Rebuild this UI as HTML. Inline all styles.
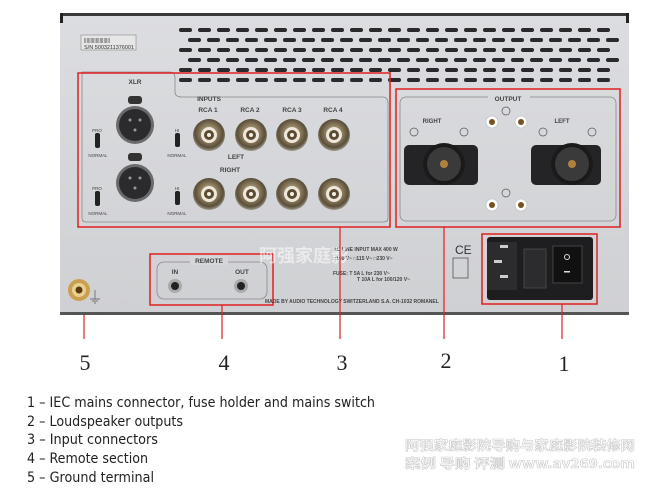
<!DOCTYPE html>
<html><head><meta charset="utf-8"><style>html,body{margin:0;padding:0;background:#fff}svg{display:block}</style></head>
<body>
<svg width="650" height="492" viewBox="0 0 650 492" xmlns="http://www.w3.org/2000/svg" font-family="Liberation Sans, sans-serif">
<defs>
<radialGradient id="rca" cx="50%" cy="45%" r="55%"><stop offset="0" stop-color="#d8c9a8"/><stop offset="0.5" stop-color="#8a7a5c"/><stop offset="0.8" stop-color="#5a4e3a"/><stop offset="1" stop-color="#a0998a"/></radialGradient>
<linearGradient id="panel" x1="0" y1="0" x2="0" y2="1"><stop offset="0" stop-color="#dcdde0"/><stop offset="1" stop-color="#cfd0d3"/></linearGradient>
</defs>
<rect x="60" y="13" width="569" height="302" fill="url(#panel)"/>
<rect x="60" y="13" width="569" height="3" fill="#3a3a3c"/>
<rect x="60" y="312" width="569" height="3" fill="#555"/>
<rect x="60" y="13" width="3" height="10" fill="#222"/><rect x="626" y="13" width="3" height="10" fill="#222"/>
<g fill="#2a2a2c">
<g id="r1">
<rect x="179" y="28" width="13" height="4" rx="2"/><rect x="198" y="28" width="13" height="4" rx="2"/><rect x="217" y="28" width="13" height="4" rx="2"/><rect x="236" y="28" width="13" height="4" rx="2"/><rect x="255" y="28" width="13" height="4" rx="2"/><rect x="274" y="28" width="13" height="4" rx="2"/><rect x="293" y="28" width="13" height="4" rx="2"/><rect x="312" y="28" width="13" height="4" rx="2"/><rect x="331" y="28" width="13" height="4" rx="2"/><rect x="350" y="28" width="13" height="4" rx="2"/><rect x="369" y="28" width="13" height="4" rx="2"/><rect x="388" y="28" width="13" height="4" rx="2"/><rect x="407" y="28" width="13" height="4" rx="2"/><rect x="426" y="28" width="13" height="4" rx="2"/><rect x="445" y="28" width="13" height="4" rx="2"/><rect x="464" y="28" width="13" height="4" rx="2"/><rect x="483" y="28" width="13" height="4" rx="2"/><rect x="502" y="28" width="13" height="4" rx="2"/><rect x="521" y="28" width="13" height="4" rx="2"/><rect x="540" y="28" width="13" height="4" rx="2"/><rect x="559" y="28" width="13" height="4" rx="2"/><rect x="578" y="28" width="13" height="4" rx="2"/><rect x="597" y="28" width="13" height="4" rx="2"/>
</g>
<use href="#r1" x="9" y="10"/><use href="#r1" y="20"/><use href="#r1" x="9" y="30"/><use href="#r1" y="40"/><use href="#r1" y="50"/>
</g>
<rect x="81" y="35" width="55" height="15" fill="#e6e6e6" stroke="#888" stroke-width="0.6"/>
<text x="84" y="42" font-size="5" fill="#333">||||||||||||||||||||</text>
<text x="84" y="49" font-size="5.5" fill="#333">S/N 5003211376001</text>
<!-- inputs -->
<path d="M82 72 H170 Q175 72 175 78 V92 Q175 97 182 97 H382 Q388 97 388 103 V218 Q388 222 383 222 H86 Q82 222 82 218 Z" fill="none" stroke="#888" stroke-width="0.8"/>
<rect x="78" y="73" width="312" height="154" fill="none" stroke="#e02020" stroke-width="1.5"/>
<g font-size="6.5" font-weight="bold" fill="#444" text-anchor="middle">
<text x="135" y="84">XLR</text><text x="209" y="101">INPUTS</text>
<text x="208" y="112">RCA 1</text><text x="250" y="112">RCA 2</text><text x="292" y="112">RCA 3</text><text x="333" y="112">RCA 4</text>
<text x="236" y="159">LEFT</text><text x="230" y="172">RIGHT</text>
</g>
<g font-size="4.5" fill="#444" text-anchor="middle">
<text x="97" y="132">PRO</text><text x="98" y="157">NORMAL</text><text x="97" y="190">PRO</text><text x="98" y="215">NORMAL</text>
<text x="177" y="132">HI</text><text x="177" y="157">NORMAL</text><text x="177" y="190">HI</text><text x="177" y="215">NORMAL</text>
</g>
<g fill="#222"><rect x="95" y="133" width="5" height="15" rx="2"/><rect x="95" y="191" width="5" height="15" rx="2"/><rect x="175" y="133" width="5" height="14" rx="2"/><rect x="175" y="191" width="5" height="14" rx="2"/></g>
<circle cx="135" cy="125" r="19" fill="#6a6a6c"/><circle cx="135" cy="125" r="16" fill="#2b2b2d"/>
<circle cx="135" cy="183" r="19" fill="#6a6a6c"/><circle cx="135" cy="183" r="16" fill="#2b2b2d"/>
<rect x="128" y="96" width="14" height="8" rx="3" fill="#333"/><rect x="128" y="153" width="14" height="8" rx="3" fill="#333"/>
<g fill="#999"><circle cx="130" cy="120" r="1.5"/><circle cx="140" cy="120" r="1.5"/><circle cx="135" cy="130" r="1.5"/><circle cx="130" cy="178" r="1.5"/><circle cx="140" cy="178" r="1.5"/><circle cx="135" cy="188" r="1.5"/></g>
<g id="rc"><circle cx="209" cy="135" r="16" fill="url(#rca)"/><circle cx="209" cy="135" r="8" fill="#eee8dc"/><circle cx="209" cy="135" r="5" fill="#5a4a30"/><circle cx="209" cy="135" r="2" fill="#f4f0e8"/></g>
<use href="#rc" x="42"/><use href="#rc" x="83"/><use href="#rc" x="125"/>
<use href="#rc" y="59"/><use href="#rc" x="42" y="59"/><use href="#rc" x="83" y="59"/><use href="#rc" x="125" y="59"/>
<!-- output -->
<rect x="400" y="97" width="216" height="124" rx="6" fill="none" stroke="#888" stroke-width="0.8"/>
<rect x="396" y="89" width="224" height="138" fill="none" stroke="#e02020" stroke-width="1.5"/>
<rect x="488" y="94" width="42" height="8" fill="#d8d9dc"/>
<text x="508" y="101" font-size="6.5" font-weight="bold" fill="#444" text-anchor="middle">OUTPUT</text>
<g font-size="6" font-weight="bold" fill="#444" text-anchor="middle"><text x="432" y="123">RIGHT</text><text x="562" y="123">LEFT</text></g>
<g fill="none" stroke="#555" stroke-width="0.7"><circle cx="414" cy="132" r="4"/><circle cx="464" cy="132" r="4"/><circle cx="506" cy="111" r="4"/><circle cx="506" cy="193" r="4"/><circle cx="543" cy="132" r="4"/><circle cx="592" cy="132" r="4"/></g>
<g fill="#fff" stroke="#bbb" stroke-width="0.6"><circle cx="492" cy="122" r="6"/><circle cx="521" cy="122" r="6"/><circle cx="492" cy="205" r="6"/><circle cx="521" cy="205" r="6"/></g>
<g fill="#7a5020"><circle cx="492" cy="122" r="3"/><circle cx="521" cy="122" r="3"/><circle cx="492" cy="205" r="3"/><circle cx="521" cy="205" r="3"/></g>
<g fill="#242426"><rect x="404" y="145" width="74" height="40" rx="5"/><rect x="531" y="145" width="70" height="40" rx="5"/></g>
<g fill="#1a1a1a"><circle cx="444" cy="164" r="21"/><circle cx="572" cy="164" r="21"/></g>
<g fill="#3a3a3a"><circle cx="444" cy="164" r="17"/><circle cx="572" cy="164" r="17"/></g>
<g fill="#b08040"><circle cx="444" cy="164" r="4"/><circle cx="572" cy="164" r="4"/></g>
<!-- remote -->
<rect x="157" y="262" width="110" height="37" rx="7" fill="none" stroke="#888" stroke-width="0.8"/>
<rect x="150" y="254" width="123" height="51" fill="none" stroke="#e02020" stroke-width="1.5"/>
<rect x="190" y="256" width="38" height="9" fill="#d6d7da"/>
<g font-size="6.5" font-weight="bold" fill="#444" text-anchor="middle"><text x="209" y="263">REMOTE</text><text x="175" y="274">IN</text><text x="242" y="274">OUT</text></g>
<circle cx="175" cy="286" r="7" fill="#aaa"/><circle cx="175" cy="286" r="4" fill="#222"/><circle cx="241" cy="286" r="7" fill="#aaa"/><circle cx="241" cy="286" r="4" fill="#222"/>
<!-- ground -->
<circle cx="79" cy="290" r="11" fill="#c9a050"/><circle cx="79" cy="290" r="7" fill="#e8d090"/><circle cx="79" cy="290" r="3.5" fill="#5a3a10"/>
<path d="M95 290 V299 M90 299 H100 M92 301 H98 M94 303 H96" stroke="#555" stroke-width="0.7" fill="none"/>
<g font-size="5" font-weight="bold" fill="#444"><text x="333" y="251">AC LINE INPUT MAX 400 W</text><text x="333" y="260">□100 V~ □115 V~ □230 V~</text><text x="333" y="275">FUSE:  T 5A  L for 230 V~</text><text x="357" y="281">T 10A L for 100/120 V~</text><text x="265" y="303">MADE BY AUDIO TECHNOLOGY SWITZERLAND S.A. CH-1032 ROMANEL</text></g>
<text x="455" y="254" font-size="12" fill="#333">CE</text>
<rect x="453" y="258" width="15" height="20" fill="none" stroke="#555" stroke-width="0.8"/>
<text x="259" y="262" font-size="18" fill="#fff" opacity="0.55" font-family="Liberation Sans, Noto Sans CJK SC, sans-serif" font-weight="bold">阿强家庭影</text>
<!-- IEC -->
<rect x="482" y="234" width="115" height="70" fill="none" stroke="#e02020" stroke-width="1.5"/>
<rect x="487" y="237" width="106" height="63" rx="3" fill="#1e1e20"/>
<rect x="487" y="242" width="30" height="48" fill="#2c2c2e"/>
<g fill="#ccc"><rect x="500" y="245" width="8" height="3"/><rect x="494" y="260" width="8" height="3"/><rect x="500" y="275" width="8" height="3"/></g>
<rect x="524" y="249" width="22" height="39" fill="#2c2c2e" stroke="#444"/>
<rect x="553" y="246" width="29" height="37" fill="#111" stroke="#444"/>
<circle cx="567" cy="257" r="2.5" fill="none" stroke="#ddd" stroke-width="1"/><rect x="564" y="271" width="6" height="1.5" fill="#ddd"/>
<g stroke="#e02020" stroke-width="1.2">
<line x1="84" y1="315" x2="84" y2="339"/><line x1="222" y1="305" x2="222" y2="339"/><line x1="340" y1="227" x2="340" y2="339"/><line x1="444" y1="227" x2="444" y2="339"/><line x1="562" y1="304" x2="562" y2="339"/>
</g>
<g font-family="Liberation Serif, serif" font-size="22" fill="#222" text-anchor="middle">
<text x="85" y="370">5</text><text x="224" y="370">4</text><text x="342" y="370">3</text><text x="446" y="368">2</text><text x="564" y="371">1</text>
</g>
<g font-family="DejaVu Sans, sans-serif" font-size="14" fill="#222">
<text x="27" y="407" textLength="348" lengthAdjust="spacingAndGlyphs">1 – IEC mains connector, fuse holder and mains switch</text>
<text x="27" y="426" textLength="156" lengthAdjust="spacingAndGlyphs">2 – Loudspeaker outputs</text>
<text x="27" y="444" textLength="131" lengthAdjust="spacingAndGlyphs">3 – Input connectors</text>
<text x="27" y="463" textLength="121" lengthAdjust="spacingAndGlyphs">4 – Remote section</text>
<text x="27" y="482" textLength="127" lengthAdjust="spacingAndGlyphs">5 – Ground terminal</text>
</g>
<g font-family="Noto Sans CJK SC, sans-serif" font-size="13" fill="#fff" stroke="#ccc" stroke-width="0.6" font-weight="bold">
<text x="405" y="450" textLength="230" lengthAdjust="spacingAndGlyphs">阿强家庭影院导购与家庭影院装修网</text>
<text x="405" y="468" textLength="230" lengthAdjust="spacingAndGlyphs">案例 导购 评测  www.av269.com</text>
</g>
</svg>
</body></html>
